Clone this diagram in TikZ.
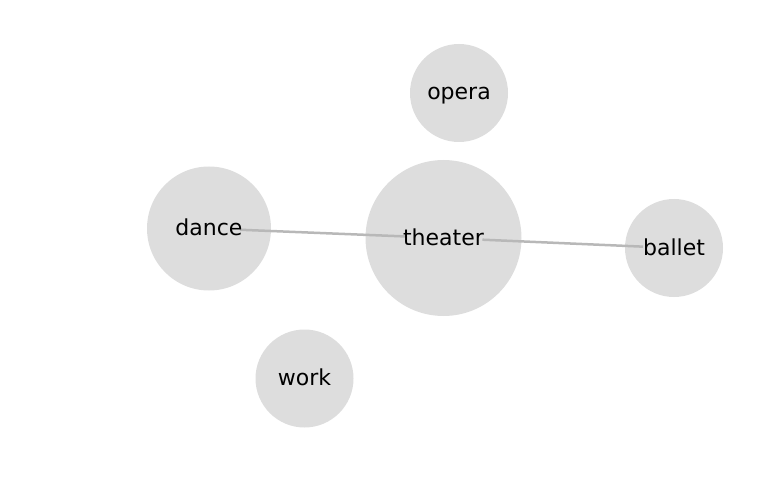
\documentclass[tikz,border=0pt]{standalone}
\usepackage{fontspec}
\setmainfont{DejaVu Sans}
\usepackage{tikz}
\usetikzlibrary{positioning}
\definecolor{nodegray}{RGB}{221,221,221}
\definecolor{edgegray}{RGB}{184,184,184}

\begin{document}
\begin{tikzpicture}[x=1pt, y=1pt, on grid,
    blob/.style={circle, fill=nodegray, inner sep=0pt},
    big/.style={blob, minimum size=156pt},
    mid/.style={blob, minimum size=124pt},
    small/.style={blob, minimum size=98pt},
    word/.style={inner sep=0pt, text height=16.5pt, text depth=2.5pt,
      font=\fontsize{22}{26}\selectfont},
    link/.style={draw=edgegray, line width=2.5pt}]
  \useasboundingbox (0,0) rectangle (769,-500);

  \node [big] (theater) at (443.5,-238) {};
  \node [small, above right=145pt and 15.5pt of theater] (opera) {};
  \node [mid, above left=9.5pt and 234.5pt of theater] (dance) {};
  \node [small, below right=10pt and 230.5pt of theater] (ballet) {};
  \node [small, below left=140.5pt and 139pt of theater] (work) {};

  \draw [link, shorten <=31pt, shorten >=38pt] (dance.center) -- (theater.center);
  \draw [link, shorten <=39pt, shorten >=31pt] (theater.center) -- (ballet.center);

  %labels
  \node [word] (theater-l) at (theater) {theater};
  \node [word] (opera-l) at (opera) {opera};
  \node [word] (dance-l) at (dance) {dance};
  \node [word] (ballet-l) at (ballet) {ballet};
  \node [word] (work-l) at (work) {work};
\end{tikzpicture}
\end{document}
